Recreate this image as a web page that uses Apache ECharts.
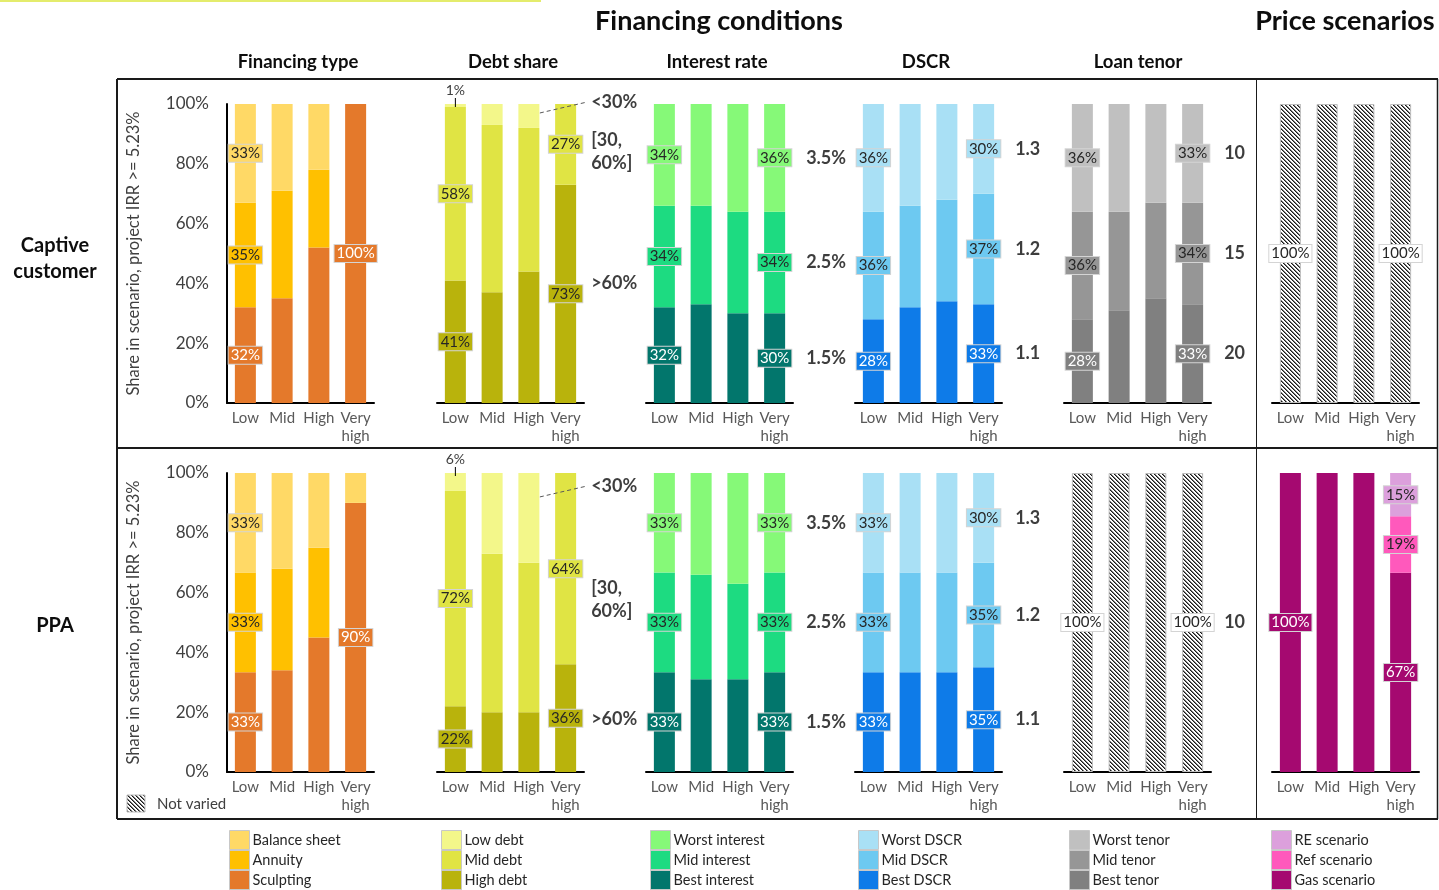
<!DOCTYPE html>
<html>
<head>
<meta charset="utf-8">
<script src="https://cdn.jsdelivr.net/npm/echarts@6/dist/echarts.min.js"></script>
<style>
  html, body { margin: 0; padding: 0; background: #fff; }
  #chart { width: 1439px; height: 890px; }
</style>
</head>
<body>
<div id="chart"></div>
<script>
// ---- data -------------------------------------------------------------
const CATEGORIES = ['Low', 'Mid', 'High', 'Very high'];
const Y_TICKS = [0, 20, 40, 60, 80, 100];
const Y_NAME = 'Share in scenario, project IRR >= 5.23%';

// Financing type
const captiveSculpting    = [32, 35, 52, 100];
const captiveAnnuity      = [35, 36, 26, 0];
const captiveBalanceSheet = [33, 29, 22, 0];
const ppaSculpting        = [33.4, 34, 45, 90];
const ppaAnnuity          = [33.3, 34, 30, 0];
const ppaBalanceSheet     = [33.3, 32, 25, 10];

// Debt share
const captiveHighDebt = [41, 37, 44, 73];
const captiveMidDebt  = [58, 56, 48, 27];
const captiveLowDebt  = [1, 7, 8, 0];
const ppaHighDebt     = [22, 20, 20, 36];
const ppaMidDebt      = [72, 53, 50, 64];
const ppaLowDebt      = [6, 27, 30, 0];
const debtShareBands  = ['<30%', '[30,\n60%]', '>60%'];

// Interest rate
const captiveBestInterest  = [32, 33, 30, 30];
const captiveMidInterest   = [34, 33, 34, 34];
const captiveWorstInterest = [34, 34, 36, 36];
const ppaBestInterest      = [33.4, 31, 31, 33.4];
const ppaMidInterest       = [33.3, 35, 32, 33.3];
const ppaWorstInterest     = [33.3, 34, 37, 33.3];
const interestRates        = ['1.5%', '2.5%', '3.5%'];

// DSCR
const captiveBestDscr  = [28, 32, 34, 33];
const captiveMidDscr   = [36, 34, 34, 37];
const captiveWorstDscr = [36, 34, 32, 30];
const ppaBestDscr      = [33.4, 33.4, 33.4, 35];
const ppaMidDscr       = [33.3, 33.3, 33.3, 35];
const ppaWorstDscr     = [33.3, 33.3, 33.3, 30];
const dscrLevels       = ['1.1', '1.2', '1.3'];

// Loan tenor
const captiveBestTenor  = [28, 31, 35, 33];
const captiveMidTenor   = [36, 33, 32, 34];
const captiveWorstTenor = [36, 36, 33, 33];
const ppaTenorFixed     = [100, 100, 100, 100];
const tenorYears        = ['20', '15', '10'];

// Price scenarios
const captivePriceFixed = [100, 100, 100, 100];
const ppaGas            = [100, 100, 100, 66.6];
const ppaRef            = [0, 0, 0, 18.9];
const ppaRe             = [0, 0, 0, 14.5];

// ---- styling ----------------------------------------------------------
const FONT = 'Lato, "Open Sans", sans-serif';

function hatchPattern() {
  const c = document.createElement('canvas');
  c.width = 4; c.height = 4;
  const g = c.getContext('2d');
  g.fillStyle = '#ffffff';
  g.fillRect(0, 0, 4, 4);
  g.fillStyle = '#1a1a1a';
  for (let i = 0; i < 4; i++) g.fillRect(i, i, 1, 1);
  g.fillStyle = '#7a7a7a';
  for (let i = 0; i < 4; i++) g.fillRect((i + 1) % 4, i, 1, 1);
  return c;
}
const HATCH = { image: hatchPattern(), repeat: 'repeat' };

const STYLE = {
  'Balance sheet':  { color: '#FFD966', text: '#262626' },
  'Annuity':        { color: '#FFC000', text: '#262626' },
  'Sculpting':      { color: '#E4792B', text: '#ffffff' },
  'Low debt':       { color: '#F3F78A', text: '#262626' },
  'Mid debt':       { color: '#E0E444', text: '#262626' },
  'High debt':      { color: '#B9B30C', text: '#262626' },
  'Worst interest': { color: '#86F978', text: '#262626' },
  'Mid interest':   { color: '#1DDB81', text: '#262626' },
  'Best interest':  { color: '#02766C', text: '#ffffff' },
  'Worst DSCR':     { color: '#A9E0F5', text: '#262626' },
  'Mid DSCR':       { color: '#6DC9F1', text: '#262626' },
  'Best DSCR':      { color: '#0E7BE8', text: '#ffffff' },
  'Worst tenor':    { color: '#C0C0C0', text: '#262626' },
  'Mid tenor':      { color: '#969696', text: '#262626' },
  'Best tenor':     { color: '#808080', text: '#ffffff' },
  'RE scenario':    { color: '#DCA0DC', text: '#262626' },
  'Ref scenario':   { color: '#FF59BC', text: '#262626' },
  'Gas scenario':   { color: '#A50970', text: '#ffffff' },
  'Not varied':     { color: HATCH, text: '#262626', labelBg: '#ffffff', border: '#bdbdbd' }
};

// Layout of the 2 x 6 panel grid
const LEFTS = [227, 437, 646, 855, 1064, 1272];
const TOPS = [104, 473];
const GRID_W = 147, GRID_H = 299;

// Panels: series listed bottom -> top of each stack
const panels = [
  { row: 0, col: 0, stack: [
    { name: 'Sculpting', data: captiveSculpting },
    { name: 'Annuity', data: captiveAnnuity },
    { name: 'Balance sheet', data: captiveBalanceSheet }] },
  { row: 0, col: 1, notes: { texts: debtShareBands, levels: [100.7, 84, 40], leaderFrom: 97 }, stack: [
    { name: 'High debt', data: captiveHighDebt },
    { name: 'Mid debt', data: captiveMidDebt },
    { name: 'Low debt', data: captiveLowDebt, smallTop: true }] },
  { row: 0, col: 2, stack: [
    { name: 'Best interest', data: captiveBestInterest, side: interestRates[0] },
    { name: 'Mid interest', data: captiveMidInterest, side: interestRates[1] },
    { name: 'Worst interest', data: captiveWorstInterest, side: interestRates[2] }] },
  { row: 0, col: 3, stack: [
    { name: 'Best DSCR', data: captiveBestDscr, side: dscrLevels[0] },
    { name: 'Mid DSCR', data: captiveMidDscr, side: dscrLevels[1] },
    { name: 'Worst DSCR', data: captiveWorstDscr, side: dscrLevels[2] }] },
  { row: 0, col: 4, stack: [
    { name: 'Best tenor', data: captiveBestTenor, side: tenorYears[0] },
    { name: 'Mid tenor', data: captiveMidTenor, side: tenorYears[1] },
    { name: 'Worst tenor', data: captiveWorstTenor, side: tenorYears[2] }] },
  { row: 0, col: 5, stack: [
    { name: 'Not varied', data: captivePriceFixed }] },

  { row: 1, col: 0, stack: [
    { name: 'Sculpting', data: ppaSculpting },
    { name: 'Annuity', data: ppaAnnuity },
    { name: 'Balance sheet', data: ppaBalanceSheet }] },
  { row: 1, col: 1, notes: { texts: debtShareBands, levels: [95.7, 57.5, 17.7], leaderFrom: 92 }, stack: [
    { name: 'High debt', data: ppaHighDebt },
    { name: 'Mid debt', data: ppaMidDebt },
    { name: 'Low debt', data: ppaLowDebt, smallTop: true }] },
  { row: 1, col: 2, stack: [
    { name: 'Best interest', data: ppaBestInterest, side: interestRates[0] },
    { name: 'Mid interest', data: ppaMidInterest, side: interestRates[1] },
    { name: 'Worst interest', data: ppaWorstInterest, side: interestRates[2] }] },
  { row: 1, col: 3, stack: [
    { name: 'Best DSCR', data: ppaBestDscr, side: dscrLevels[0] },
    { name: 'Mid DSCR', data: ppaMidDscr, side: dscrLevels[1] },
    { name: 'Worst DSCR', data: ppaWorstDscr, side: dscrLevels[2] }] },
  { row: 1, col: 4, stack: [
    { name: 'Not varied', data: ppaTenorFixed, side: tenorYears[2] }] },
  { row: 1, col: 5, stack: [
    { name: 'Gas scenario', data: ppaGas },
    { name: 'Ref scenario', data: ppaRef },
    { name: 'RE scenario', data: ppaRe }] }
];

const LAST = CATEGORIES.length - 1;

function segmentLabel(v, k, st, smallTop) {
  const edge = k === 0 || k === LAST;
  if (!edge || v <= 0) return { show: false };
  const txt = Math.round(v) + '%';
  if (v > 10) {
    return {
      show: true, position: 'inside', formatter: txt,
      color: st.text, backgroundColor: st.labelBg || st.color,
      borderColor: '#d4d4d4', borderWidth: 1, padding: [1, 2, 0, 2],
      fontSize: 15, lineHeight: 16, fontFamily: FONT
    };
  }
  if (smallTop) {
    return {
      show: true, position: 'top', distance: -3,
      formatter: '{t|' + txt + '}\n{l|}',
      rich: {
        t: { fontSize: 14, lineHeight: 15, color: '#404040', fontFamily: FONT, align: 'center' },
        l: { width: 1, height: 9, backgroundColor: '#000', align: 'center' }
      }
    };
  }
  return { show: false };
}

function sideLabel(i, y, text, distance) {
  return {
    type: 'scatter', xAxisIndex: i, yAxisIndex: i, silent: true, z: 5, clip: false,
    symbolSize: 1, itemStyle: { color: 'rgba(0,0,0,0)' },
    data: [[CATEGORIES[LAST], y]],
    label: {
      show: true, position: 'right', distance: distance, formatter: text,
      fontSize: 18, fontWeight: 'bold', lineHeight: 23, color: '#0d0d0d', fontFamily: FONT
    }
  };
}

const option = {
  animation: false,
  backgroundColor: '#ffffff',
  textStyle: { fontFamily: FONT },
  grid: [], xAxis: [], yAxis: [], series: [], legend: []
};

panels.forEach((p, i) => {
  const first = p.col === 0;
  option.grid.push({ left: LEFTS[p.col], top: TOPS[p.row], width: GRID_W, height: GRID_H });
  option.xAxis.push({
    type: 'category', gridIndex: i, data: CATEGORIES,
    axisLine: { lineStyle: { color: '#000', width: 2 } },
    axisTick: { show: false },
    axisLabel: {
      interval: 0, fontSize: 15, lineHeight: 18, margin: 6, color: '#595959', fontFamily: FONT,
      formatter: v => v.replace(' ', '\n')
    }
  });
  option.yAxis.push({
    type: 'value', gridIndex: i, min: Y_TICKS[0], max: Y_TICKS[Y_TICKS.length - 1],
    interval: Y_TICKS[1] - Y_TICKS[0],
    splitLine: { show: false },
    axisTick: { show: false },
    axisLine: { show: first, lineStyle: { color: '#000', width: 2 } },
    axisLabel: { show: first, formatter: '{value}%', fontSize: 17, color: '#404040', margin: 18, fontFamily: FONT },
    name: first ? Y_NAME : '', nameLocation: 'middle', nameGap: 85,
    nameTextStyle: { fontSize: 16.5, color: '#404040', fontFamily: FONT }
  });

  let below = 0;
  p.stack.forEach(s => {
    const st = STYLE[s.name];
    option.series.push({
      type: 'bar', name: s.name, xAxisIndex: i, yAxisIndex: i, stack: 'panel' + i,
      barWidth: 21,
      itemStyle: { color: st.color, borderColor: st.border || st.color, borderWidth: st.border ? 1 : 0 },
      data: s.data.map((v, k) => ({ value: v, label: segmentLabel(v, k, st, s.smallTop) }))
    });
    const v = s.data[LAST];
    if (s.side) option.series.push(sideLabel(i, below + v / 2, s.side, 31));
    below += v;
  });

  if (p.notes) {
    p.notes.texts.forEach((t, k) => option.series.push(sideLabel(i, p.notes.levels[k], t, 25)));
  }
});

// legends: one column per panel group
const legendGroups = [
  { left: 229, names: ['Balance sheet', 'Annuity', 'Sculpting'] },
  { left: 441, names: ['Low debt', 'Mid debt', 'High debt'] },
  { left: 650, names: ['Worst interest', 'Mid interest', 'Best interest'] },
  { left: 858, names: ['Worst DSCR', 'Mid DSCR', 'Best DSCR'] },
  { left: 1069, names: ['Worst tenor', 'Mid tenor', 'Best tenor'] },
  { left: 1271, names: ['RE scenario', 'Ref scenario', 'Gas scenario'] }
];
legendGroups.forEach(g => option.legend.push({
  orient: 'vertical', left: g.left, top: 830, width: 180, height: 120, padding: 0,
  itemWidth: 20, itemHeight: 19, itemGap: 0, icon: 'rect', selectedMode: false,
  itemStyle: { borderColor: '#c8c8c8', borderWidth: 1 },
  textStyle: { fontSize: 14.5, lineHeight: 18, color: '#262626', fontFamily: FONT, padding: [0, 0, 0, -2] },
  data: g.names
}));

function txt(text, x, y, size, opts) {
  opts = opts || {};
  return {
    type: 'text', silent: true, z: 10,
    style: {
      text: text, x: x, y: y, fill: opts.fill || '#0d0d0d',
      font: (opts.weight || 'bold') + ' ' + size + 'px ' + FONT,
      textAlign: opts.align || 'center', align: opts.align || 'center',
      textVerticalAlign: 'middle', verticalAlign: 'middle',
      lineHeight: opts.lineHeight
    }
  };
}
function hline(x1, y1, x2, y2, w) {
  return { type: 'line', silent: true, z: 10, shape: { x1, y1, x2, y2 }, style: { stroke: '#1a1a1a', lineWidth: w } };
}

const staticGraphics = [
  { type: 'rect', silent: true, shape: { x: 0, y: 0, width: 541, height: 2 }, style: { fill: '#E4EC6C' } },
  txt('Financing conditions', 719, 21, 27),
  txt('Price scenarios', 1345, 21, 27),
  txt('Financing type', 298, 62, 18.5),
  txt('Debt share', 513, 62, 18.5),
  txt('Interest rate', 717, 62, 18.5),
  txt('DSCR', 926, 62, 18.5),
  txt('Loan tenor', 1138, 62, 18.5),
  txt('Captive\ncustomer', 55, 259, 20, { lineHeight: 26 }),
  txt('PPA', 55, 626, 20),
  hline(117, 79, 1438, 79, 2),
  hline(117, 819, 1438, 819, 2),
  hline(117, 448, 1438, 448, 2),
  hline(117, 79, 117, 819, 2),
  hline(1437.5, 79, 1437.5, 819, 1.5),
  hline(1256.5, 79, 1256.5, 819, 1),
  { type: 'rect', silent: true, shape: { x: 127, y: 795, width: 18, height: 17 }, style: { fill: HATCH, stroke: '#bdbdbd', lineWidth: 1 } },
  txt('Not varied', 157, 804, 15, { weight: 'normal', align: 'left', fill: '#404040' })
];
option.graphic = staticGraphics;

const chart = echarts.init(document.getElementById('chart'), null, { renderer: 'canvas' });
chart.setOption(option);

// dashed leaders from the High bar to the "<30%" note of the debt-share panels
const leaders = [];
panels.forEach((p, i) => {
  if (!p.notes) return;
  const from = chart.convertToPixel({ gridIndex: i }, [CATEGORIES[2], p.notes.leaderFrom]);
  const to = chart.convertToPixel({ gridIndex: i }, [CATEGORIES[LAST], p.notes.levels[0]]);
  leaders.push({
    type: 'line', silent: true, z: 10,
    shape: { x1: from[0] + 11, y1: from[1], x2: to[0] + 22, y2: to[1] },
    style: { stroke: '#595959', lineWidth: 1, lineDash: [4, 3] }
  });
});
chart.setOption({ graphic: staticGraphics.concat(leaders) });
</script>
</body>
</html>
